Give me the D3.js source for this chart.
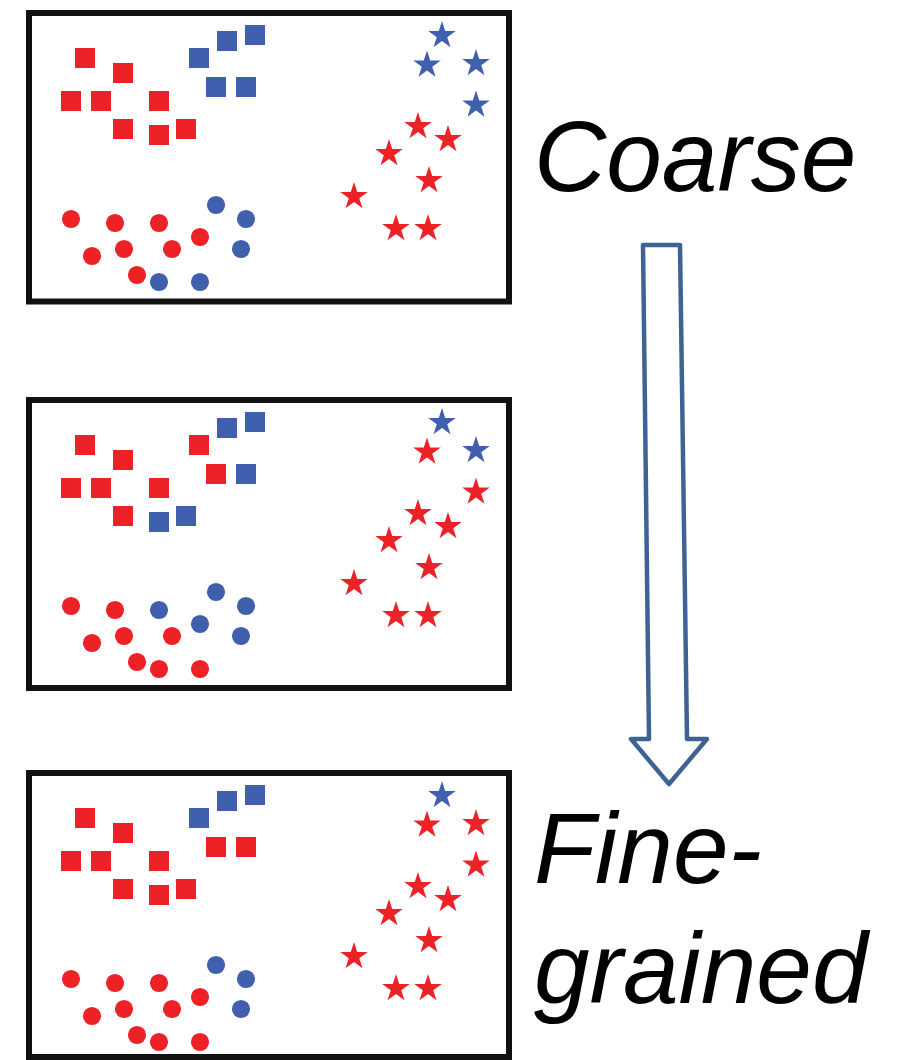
<!DOCTYPE html>
<html>
<head>
<meta charset="utf-8">
<script src="https://cdn.jsdelivr.net/npm/d3@7"></script>
<style>
  html, body { margin: 0; padding: 0; background: #fff; }
  svg { display: block; }
</style>
</head>
<body>
<div id="chart"></div>
<script>
// Point layout inside one panel (same positions in all three panels)
const squareX = [56, 94, 42, 72, 130, 94, 130, 157, 170, 198, 226, 187, 217];
const squareY = [45, 60, 88, 88, 88, 116, 122, 116, 45, 28, 22, 74, 74];
const circleX = [42, 86, 130, 171, 63, 95, 143, 108, 130, 171, 187, 217, 212];
const circleY = [206, 210, 210, 224, 243, 236, 236, 262, 269, 269, 192, 206, 236];
const starX = [413, 398, 447, 447, 389, 419, 360, 400, 325, 367, 399];
const starY = [22.5, 52, 50.5, 92, 113.5, 126.5, 140.5, 167.5, 183.5, 215.5, 215.5];

// Class of each point per panel: r = red, b = blue
const squareClass = ["rrrrrrrrbbbbb", "rrrrrrbbrbbrb", "rrrrrrrrbbbrr"];
const circleClass = ["rrrrrrrrbbbbb", "rrbbrrrrrrbbb", "rrrrrrrrrrbbb"];
const starClass = ["bbbbrrrrrrr", "brbrrrrrrrr", "brrrrrrrrrr"];

// Text labels
const labelText = ["Coarse", "Fine-", "grained"];

const width = 908;
const height = 1060;
const panelTop = [13, 400, 773];
const panelHeight = [288.5, 288, 284];

const svg = d3.select("#chart")
    .append("svg")
    .attr("width", width)
    .attr("height", height);

svg.append("rect")
    .attr("width", width)
    .attr("height", height)
    .attr("fill", "#fff");

const color = d3.scaleOrdinal()
    .domain(["r", "b"])
    .range(["#ed2227", "#4060ad"]);

const xScale = d3.scaleLinear().domain([0, 480]).range([29, 509]);

const squareSym = d3.symbol(d3.symbolSquare, 400);
const circleSym = d3.symbol(d3.symbolCircle, 260);
const starSym = d3.symbol(d3.symbolStar, 235);

panelTop.forEach(function(top, p) {
    const yScale = d3.scaleLinear().domain([0, 288]).range([top, top + 288]);
    const g = svg.append("g").attr("class", "panel");

    // frame
    g.append("rect")
        .attr("x", xScale(0))
        .attr("y", top)
        .attr("width", xScale(480) - xScale(0))
        .attr("height", panelHeight[p])
        .attr("fill", "none")
        .attr("stroke", "#111")
        .attr("stroke-width", 6);

    const groups = [
        { xs: squareX, ys: squareY, cls: squareClass[p], sym: squareSym },
        { xs: circleX, ys: circleY, cls: circleClass[p], sym: circleSym },
        { xs: starX, ys: starY, cls: starClass[p], sym: starSym }
    ];

    groups.forEach(function(grp) {
        const pts = grp.xs.map((x, i) => ({ x: x, y: grp.ys[i], c: grp.cls[i] }));
        g.selectAll(null)
            .data(pts)
            .enter()
            .append("path")
            .attr("d", grp.sym)
            .attr("transform", d => `translate(${xScale(d.x)}, ${yScale(d.y)})`)
            .attr("fill", d => color(d.c));
    });
});

// Hollow arrow from coarse to fine-grained
const arrowPts = [[643, 245], [680, 245], [687, 739], [707, 739], [669, 784], [631, 739], [649, 739]];
svg.append("path")
    .attr("d", d3.line()(arrowPts) + "Z")
    .attr("fill", "none")
    .attr("stroke", "#3f6294")
    .attr("stroke-width", 4.5)
    .attr("stroke-linejoin", "round");

// Labels
const labelY = [190.5, 883, 1003];
svg.selectAll(".label")
    .data(labelText)
    .enter()
    .append("text")
    .attr("class", "label")
    .attr("x", 534)
    .attr("y", (d, i) => labelY[i])
    .attr("font-family", "'Liberation Sans', Arial, sans-serif")
    .attr("font-style", "italic")
    .attr("font-size", 100)
    .attr("fill", "#000")
    .text(d => d);
</script>
</body>
</html>
